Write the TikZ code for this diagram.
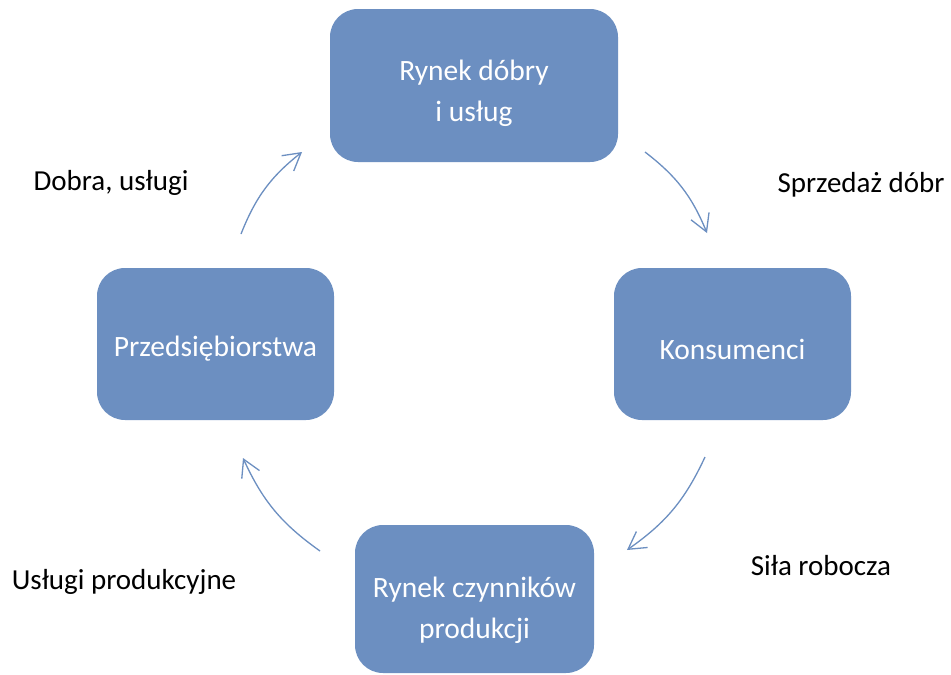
\documentclass[tikz,border=0pt]{standalone}
\usepackage{fontspec}
\setmainfont{Carlito}
\usetikzlibrary{arrows.meta}
\definecolor{boxblue}{RGB}{108,143,193}
\begin{document}
\begin{tikzpicture}[x=1pt,y=-1pt,
  market/.style={fill=boxblue, draw=none, rounded corners=28pt, inner sep=0pt},
  boxtext/.style={text=white, font=\fontsize{29.5}{41}\selectfont, align=center, inner sep=0pt},
  flow/.style={draw=boxblue, line width=1.3pt,
    -{Straight Barb[length=17pt,width=19.5pt]}, bend left=15},
  lbl/.style={font=\fontsize{29}{35}\selectfont, inner sep=0pt, anchor=base}]
\useasboundingbox (0,0) rectangle (951,675);
\fill[white] (0,0) rectangle (951,675);

% the four boxes of the circular flow
\node[market, minimum width=288pt, minimum height=153pt] (goods) at (474,85.5) {};
\node[market, minimum width=237pt, minimum height=152pt] (cons) at (732.5,344) {};
\node[market, minimum width=237pt, minimum height=152pt] (firms) at (215.5,344) {};
\node[market, minimum width=239pt, minimum height=148pt] (factors) at (474.5,599) {};

% their texts
\node[boxtext, yshift=-8pt] (goods-t) at (goods.center) {Rynek dóbry\\i usług};
\node[boxtext, yshift=-5pt] (cons-t) at (cons.center) {Konsumenci};
\node[boxtext, yshift=-5pt] (firms-t) at (firms.center) {Przedsiębiorstwa};
\node[boxtext, yshift=-11pt] (factors-t) at (factors.center) {Rynek czynników\\produkcji};

% ends of the curved flows
\coordinate (a1) at (241,234); \coordinate (a2) at (302,152);
\coordinate (b1) at (645,152); \coordinate (b2) at (707,233);
\coordinate (c1) at (705,457); \coordinate (c2) at (627,550);
\coordinate (d1) at (320,551); \coordinate (d2) at (243,458);

\draw[flow] (a1) to (a2);
\draw[flow] (b1) to (b2);
\draw[flow] (c1) to (c2);
\draw[flow] (d1) to (d2);

% flow labels
\node[lbl] (l1) at (111,190) {Dobra, usługi};
\node[lbl] (l2) at (861,192) {Sprzedaż dóbr};
\node[lbl] (l3) at (821,575) {Siła robocza};
\node[lbl] (l4) at (124,589) {Usługi produkcyjne};
\end{tikzpicture}
\end{document}
